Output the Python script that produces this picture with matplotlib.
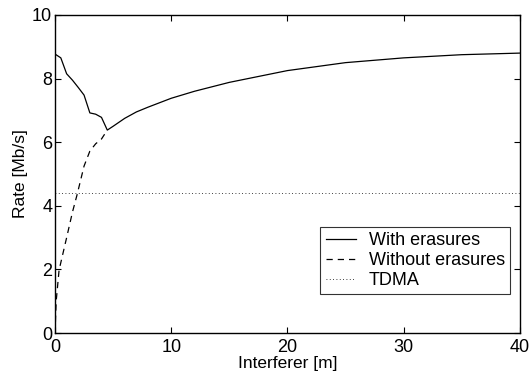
import matplotlib
matplotlib.use("Agg")
import matplotlib.pyplot as plt

plt.rcParams['font.family'] = ['Liberation Sans', 'DejaVu Sans']

x_with = [0, 0.5, 1, 1.5, 2, 2.5, 3, 3.5, 4, 4.5, 5, 6, 7, 8, 10, 12, 15, 20, 25, 30, 35, 40]
y_with = [8.77, 8.65, 8.15, 7.95, 7.72, 7.48, 6.92, 6.88, 6.78, 6.38, 6.5, 6.75, 6.95, 7.1, 7.38, 7.6, 7.88, 8.25, 8.5, 8.65, 8.75, 8.8]

x_without = [0, 0.1, 0.35, 1, 1.5, 1.9, 2.5, 3, 3.5, 4, 4.5]
y_without = [0, 1.0, 1.98, 3.0, 3.8, 4.35, 5.25, 5.72, 5.95, 6.1, 6.38]

tdma_rate = 4.4

xticks = [0, 10, 20, 30, 40]
yticks = [0, 2, 4, 6, 8, 10]

fig = plt.figure(figsize=(5.32, 3.73), dpi=100)
ax = fig.add_axes([0.1034, 0.107, 0.8736, 0.853])

ax.plot(x_with, y_with, color='black', linestyle='-', linewidth=0.9, label='With erasures')
ax.plot(x_without, y_without, color='black', linestyle=(0, (5, 4)), linewidth=0.9, label='Without erasures')
ax.axhline(tdma_rate, color='black', linestyle=(0, (1, 3)), linewidth=0.6, label='TDMA')

ax.set_xlim(0, 40)
ax.set_ylim(0, 10)
ax.set_xticks(xticks)
ax.set_yticks(yticks)
ax.tick_params(direction='in', top=True, right=True, length=4, width=0.8, labelsize=13)
ax.tick_params(axis='x', pad=4)
ax.tick_params(axis='y', pad=2)
for s in ax.spines.values():
    s.set_linewidth(1.0)

ax.set_xlabel('Interferer [m]', fontsize=12.5, labelpad=0)
ax.set_ylabel('Rate [Mb/s]', fontsize=12.5, labelpad=3)

leg = ax.legend(loc='lower right', bbox_to_anchor=(0.98, 0.122), fontsize=13, frameon=True,
                fancybox=False, edgecolor='black', handlelength=1.7, borderpad=0.3,
                labelspacing=0.15, handletextpad=0.7, borderaxespad=0)
leg.get_frame().set_linewidth(0.8)

fig.savefig('out.png', dpi=100)
